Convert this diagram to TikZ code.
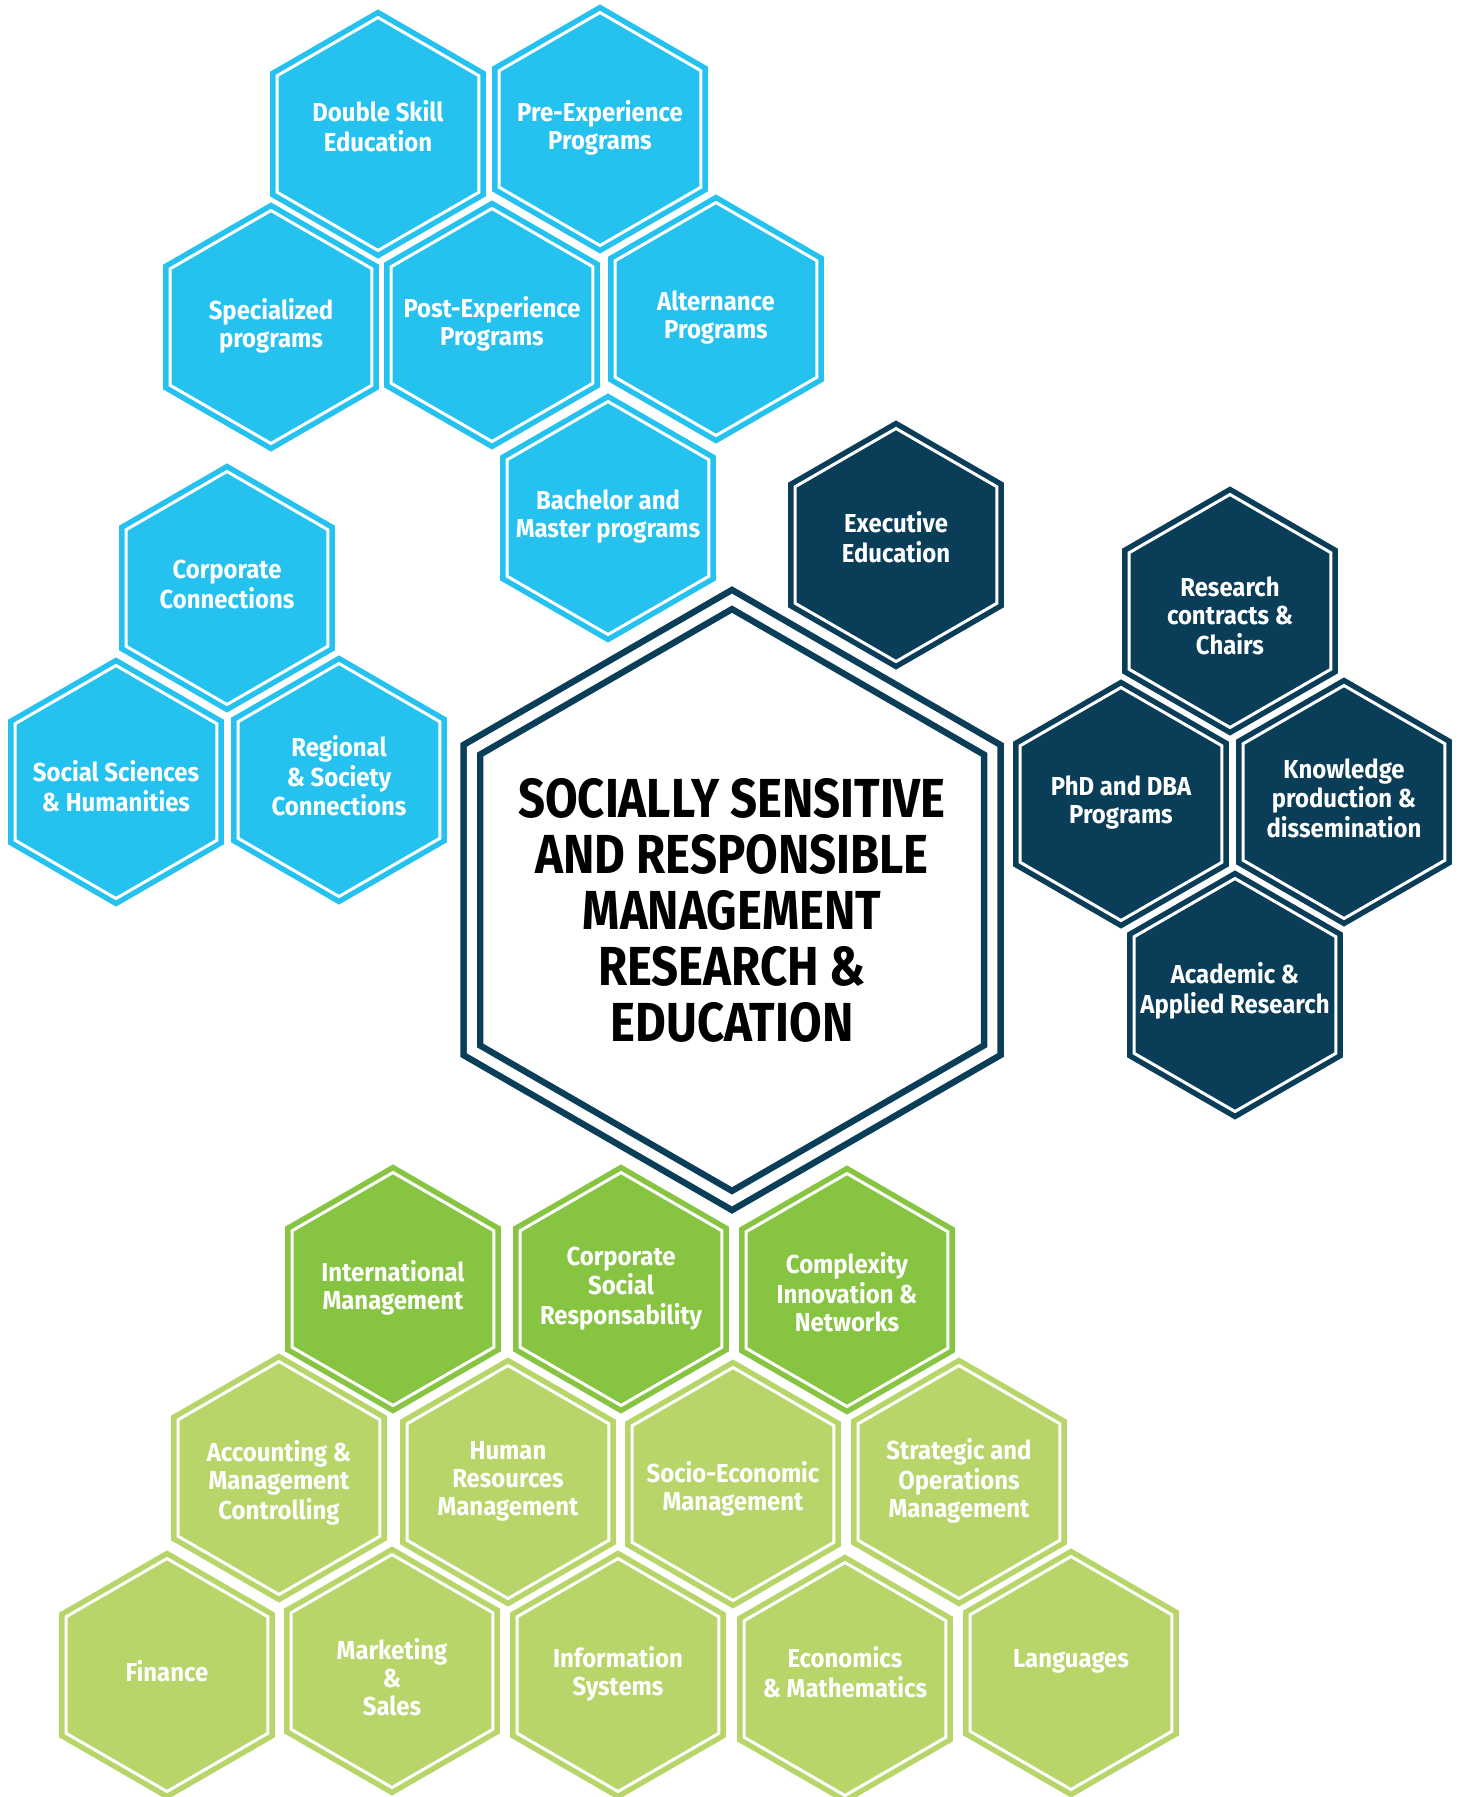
\documentclass[tikz,border=0pt]{standalone}
\usepackage{fontspec}
\setmainfont{Fira Sans}[FakeStretch=0.92]
\newfontfamily\hubfont{Fira Sans}[FakeStretch=0.86]
\usepackage{tikz}
\usetikzlibrary{shapes.geometric}
\definecolor{skyhex}{RGB}{37,194,240}
\definecolor{navyhex}{RGB}{10,62,88}
\definecolor{leafhex}{RGB}{134,196,65}
\definecolor{limehex}{RGB}{183,213,105}
\newcommand\hexlines[1]{\begin{tabular}{@{}c@{}}#1\end{tabular}}

\begin{document}
\begin{tikzpicture}[x=1pt, y=-1pt,
  cell/.style={regular polygon, regular polygon sides=6, shape border rotate=30,
    minimum size=233pt, inner sep=0pt, line width=5.5pt, double=white, double distance=3pt},
  celltext/.style={inner sep=0pt, text=white, font=\bfseries\fontsize{26}{28}\selectfont},
  hub/.style={regular polygon, regular polygon sides=6, shape border rotate=30,
    minimum size=601pt, inner sep=0pt, fill=white, draw=navyhex, line width=6.5pt,
    double=white, double distance=10pt},
  hubtext/.style={align=center, inner sep=0pt, font=\hubfont\bfseries\fontsize{55}{56}\selectfont}]
\fill[white] (0,0) rectangle (1461,1797);
\useasboundingbox (0,0) rectangle (1461,1797);

\foreach \px/\py/\dy/\nm/\txt in {378/134/4/dse/{Double Skill\\Education},
    600/129/0/pre/{Pre-Experience\\Programs},
    271/327/0/spec/{Specialized\\programs},
    492/325/0/post/{Post-Experience\\Programs},
    716/319/0/alt/{Alternance\\Programs},
    608/518/0/bam/{Bachelor and\\Master programs},
    227/588/0/corp/{Corporate\\Connections},
    116/782/-8/ssh/{Social Sciences\\\& Humanities},
    339/780/0/reg/{Regional\\\& Society\\Connections}}
  {\node[cell, fill=skyhex, draw=skyhex] (\nm) at (\px,\py) {};
   \node[celltext] (\nm-t) at ([yshift=\dy pt]\nm.center) {\hexlines{\txt}};}

\foreach \px/\py/\dy/\nm/\txt in {896/545/4/exe/{Executive\\Education},
    1230/611/-9/rcc/{Research\\contracts \&\\Chairs},
    1121/804/0/phd/{PhD and DBA\\Programs},
    1344/802/0/kpd/{Knowledge\\production \&\\dissemination},
    1235/995/3/aar/{Academic \&\\Applied Research}}
  {\node[cell, fill=navyhex, draw=navyhex] (\nm) at (\px,\py) {};
   \node[celltext] (\nm-t) at ([yshift=\dy pt]\nm.center) {\hexlines{\txt}};}

\foreach \px/\py/\dy/\nm/\txt in {393/1289/0/intl/{International\\Management},
    621/1289/0/csr/{Corporate\\Social\\Responsability},
    847/1290/-6/cin/{Complexity\\Innovation \&\\Networks}}
  {\node[cell, fill=leafhex, draw=leafhex] (\nm) at (\px,\py) {};
   \node[celltext] (\nm-t) at ([yshift=\dy pt]\nm.center) {\hexlines{\txt}};}

\foreach \px/\py/\dy/\nm/\txt in {279/1478/-6/amc/{Accounting \&\\Management\\Controlling},
    508/1482/0/hrm/{Human\\Resources\\Management},
    733/1484/-6/sem/{Socio-Economic\\Management},
    959/1482/0/som/{Strategic and\\Operations\\Management},
    167/1675/0/fin/{Finance},
    392/1671/-10/mks/{Marketing\\\&\\Sales},
    618/1675/0/ins/{Information\\Systems},
    845/1679/3/ecm/{Economics\\\& Mathematics},
    1071/1673/11/lang/{Languages}}
  {\node[cell, fill=limehex, draw=limehex] (\nm) at (\px,\py) {};
   \node[celltext] (\nm-t) at ([yshift=\dy pt]\nm.center) {\hexlines{\txt}};}

\node[hub] (hub) at (732,900) {};
\node[hubtext] (hubtxt) at ([yshift=-10pt]hub.center) {SOCIALLY SENSITIVE\\AND RESPONSIBLE\\MANAGEMENT\\RESEARCH \&\\EDUCATION};
\end{tikzpicture}
\end{document}
